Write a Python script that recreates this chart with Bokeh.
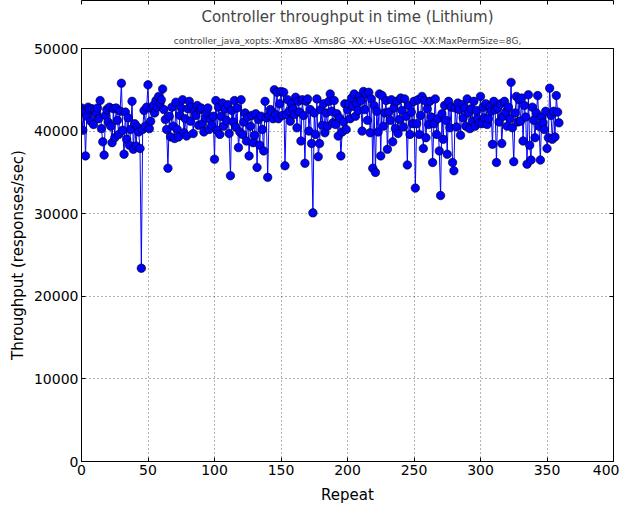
from bokeh.plotting import figure
from bokeh.models import LinearAxis, Title, FixedTicker, Range1d
from bokeh.embed import file_html
from bokeh.resources import INLINE

title_text = "Controller throughput in time (Lithium)"
subtitle_text = "controller_java_xopts:-Xmx8G -Xms8G -XX:+UseG1GC -XX:MaxPermSize=8G,"
x_label = "Repeat"
y_label = "Throughput (responses/sec)"
x_ticks = [0, 50, 100, 150, 200, 250, 300, 350, 400]
y_ticks = [0, 10000, 20000, 30000, 40000, 50000]

throughput = [
    42800, 40100, 42300, 37000, 41800, 42900, 42600, 41200, 42700, 40800, 42500, 42100, 42800, 41500, 43700, 40300, 38700, 37100, 41900, 42600,
    41100, 42900, 40600, 38600, 42700, 39200, 42800, 41300, 39600, 42400, 45800, 40100, 37200, 42300, 39000, 41600, 38300, 40200, 43600, 37800,
    40900, 38200, 40500, 39900, 37900, 23400, 40200, 42500, 40600, 42900, 45600, 40300, 41200, 42700, 43100, 42200, 43700, 42900, 44200, 43400,
    43800, 45100, 42600, 41400, 40200, 35500, 41800, 39300, 42900, 40600, 39100, 43500, 40200, 39300, 41900, 42800, 43800, 39800, 41500, 39400,
    42700, 43600, 41200, 42900, 39700, 42400, 41900, 43100, 40700, 42600, 42800, 40900, 39900, 41600, 42300, 42800, 40200, 41400, 40700, 41800,
    36600, 43700, 40100, 42900, 39600, 41800, 43400, 40600, 42700, 41300, 43200, 39700, 34600, 42500, 41100, 43700, 40500, 42800, 38000, 39900,
    43800, 39600, 41100, 42200, 38800, 41700, 37000, 40600, 41900, 38600, 39500, 42100, 35600, 41400, 38300, 41800, 40200, 37600, 43600, 41600,
    34400, 41900, 42600, 42300, 41500, 45000, 42000, 44700, 41500, 43300, 44800, 41900, 44700, 35800, 42000, 43800, 42400, 41200, 43300, 42700,
    42000, 44100, 40400, 43600, 42300, 38800, 43800, 41900, 36100, 43600, 43900, 40000, 42600, 38500, 30100, 42200, 39600, 43900, 36900, 38500,
    42600, 40700, 43300, 39800, 42200, 40600, 43600, 44500, 42400, 41000, 43700, 40800, 42100, 39400, 41600, 37000, 39900, 41100, 43300, 40200,
    42600, 43300, 41500, 44000, 43000, 44500, 41800, 43300, 42500, 44200, 43700, 40000, 44800, 42600, 44500, 41300, 44700, 39800, 43900, 35500,
    43100, 35000, 42400, 39900, 44500, 37000, 44300, 40600, 42200, 43700, 37800, 42300, 41300, 43800, 38700, 42800, 40300, 43600, 39700, 41400,
    44000, 42500, 40500, 43900, 41800, 35900, 43100, 39600, 42300, 40900, 43600, 33100, 40900, 43800, 39600, 41900, 44200, 37900, 43700, 39200,
    42700, 40800, 43600, 41700, 36200, 40900, 43900, 39600, 41500, 37600, 32200, 42100, 39000, 43100, 41300, 37200, 43600, 40400, 42900, 36200,
    35200, 42800, 40500, 43400, 42600, 39500, 43200, 41600, 42800, 40600, 43900, 42200, 40300, 42700, 41200, 43600, 40600, 42500, 41500, 41000,
    44200, 40900, 42900, 41600, 43300, 40800, 41500, 43000, 42400, 38400, 43600, 42600, 36200, 42800, 41100, 43300, 38500, 41800, 43600, 42300,
    40600, 42900, 41500, 45900, 40400, 36300, 42200, 44200, 41100, 43800, 41200, 44000, 38800, 43100, 41700, 36000, 44400, 38300, 36500, 42900,
    41300, 39200, 42200, 44300, 40600, 36500, 41700, 41000, 40200, 42400, 37900, 39200, 45200, 41900, 39000, 42400, 39300, 44300, 42300, 41000,
]
repeat = list(range(len(throughput)))

FONT = "DejaVu Sans"

p = figure(
    frame_width=532, frame_height=413,
    min_border_left=81, min_border_right=6, min_border_top=18, min_border_bottom=30,
    x_range=Range1d(0, 400), y_range=Range1d(0, 50000),
    output_backend="svg", toolbar_location=None, title=None,
    x_axis_label=x_label, y_axis_label=y_label,
)
p.background_fill_color = "white"
p.border_fill_color = "white"
p.outline_line_color = "black"
p.outline_line_width = 1

# titles (subtitle closest to plot)
p.add_layout(Title(text=subtitle_text, align="center", text_font=FONT,
                   text_font_size="9px", text_font_style="normal", offset=-8, standoff=6), "above")
p.add_layout(Title(text=title_text, align="center", text_font=FONT,
                   text_font_size="15px", text_font_style="normal", offset=-8, standoff=10), "above")

for ax in (p.xaxis[0], p.yaxis[0]):
    ax.major_tick_in = 4
    ax.major_tick_out = 0
    ax.minor_tick_line_color = None
    ax.axis_line_color = "black"
    ax.major_tick_line_color = "black"
    ax.major_label_text_font = FONT
    ax.major_label_text_font_size = "14px"
    ax.major_label_text_color = "black"
    ax.axis_label_text_font = FONT
    ax.axis_label_text_font_size = "15px"
    ax.axis_label_text_font_style = "normal"
    ax.axis_label_text_color = "black"
    ax.major_label_standoff = 3

p.xaxis[0].axis_label_standoff = 8
p.yaxis[0].axis_label_standoff = 4
p.xaxis[0].ticker = FixedTicker(ticks=x_ticks)
p.yaxis[0].ticker = FixedTicker(ticks=y_ticks)
p.yaxis[0].major_label_orientation = "horizontal"

# mirrored ticks on top and right (no labels)
top = LinearAxis(ticker=FixedTicker(ticks=x_ticks),
                 major_label_overrides={t: "" for t in x_ticks},
                 major_tick_in=4, major_tick_out=0, minor_tick_line_color=None,
                 axis_line_color="black", major_label_standoff=0)
right = LinearAxis(ticker=FixedTicker(ticks=y_ticks),
                   major_label_overrides={t: "" for t in y_ticks},
                   major_tick_in=4, major_tick_out=0, minor_tick_line_color=None,
                   axis_line_color="black", major_label_standoff=0)
p.add_layout(top, "above")
p.add_layout(right, "right")

p.xgrid.ticker = FixedTicker(ticks=x_ticks)
p.ygrid.ticker = FixedTicker(ticks=y_ticks)
for g in (p.xgrid[0], p.ygrid[0]):
    g.grid_line_color = "black"
    g.grid_line_alpha = 0.6
    g.grid_line_dash = "1 3"
    g.grid_line_width = 1

p.line(repeat, throughput, line_color="blue", line_width=1)
p.scatter(repeat, throughput, size=8.5, fill_color="blue", line_color="black", line_width=0.6)

open("out.html", "w").write(file_html(p, INLINE))
